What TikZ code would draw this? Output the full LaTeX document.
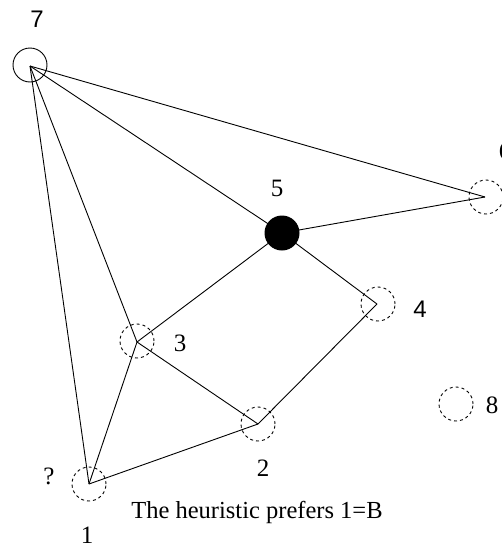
\documentclass[tikz,border=0pt]{standalone}
\usepackage{fontspec}
\setmainfont{Liberation Serif}
\newfontfamily\lsans{Liberation Sans}
\begin{document}
\begin{tikzpicture}[x=1pt,y=-1pt,
  edge/.style={line width=0.9pt},
  vtx/.style={circle,draw,dash pattern=on 3pt off 3pt,line width=0.9pt,minimum size=34pt,inner sep=0pt},
  lbl/.style={inner sep=0pt,font=\fontsize{25}{25}\selectfont},
  slbl/.style={inner sep=0pt,font=\lsans\fontsize{24}{24}\selectfont}]
\useasboundingbox (0,0) rectangle (502,544);
% vertex points
\coordinate (p7) at (30,66);
\coordinate (p6) at (485,197);
\coordinate (p5) at (282,233);
\coordinate (p4) at (377,304);
\coordinate (p3) at (137,342);
\coordinate (p2) at (258,424);
\coordinate (p1) at (89,484);
% circles
\node[circle,draw,line width=0.9pt,minimum size=34pt,inner sep=0pt] (c7) at (30,65) {};
\node[vtx] (c6) at (486,197) {};
\node[circle,fill=black,minimum size=35pt,inner sep=0pt] (c5) at (p5) {};
\node[vtx] (c4) at (378,304) {};
\node[vtx] (c3) at (137,341) {};
\node[vtx] (c2) at (258,424) {};
\node[vtx] (c1) at (89,484) {};
\node[vtx] (c8) at (456,404) {};
% edges
\draw[edge] (p7) -- (p6);
\draw[edge] (p7) -- (p5);
\draw[edge] (p7) -- (p3);
\draw[edge] (p7) -- (p1);
\draw[edge] (p5) -- (p6);
\draw[edge] (p5) -- (p3);
\draw[edge] (p5) -- (p4);
\draw[edge] (p4) -- (p2);
\draw[edge] (p3) -- (p2);
\draw[edge] (p3) -- (p1);
\draw[edge] (p1) -- (p2);
% labels
\node[slbl] (l7) at (37,19) {7};
\node[lbl] (l6) at (505,151) {6};
\node[lbl] (l5) at (277,188) {5};
\node[slbl] (l4) at (420,309) {4};
\node[lbl] (l3) at (180,343) {3};
\node[lbl] (l2) at (263,468) {2};
\node[lbl] (l1) at (87,535) {1};
\node[lbl] (lq) at (49,476) {?};
\node[lbl] (l8) at (492,405) {8};
\node[inner sep=0pt,font=\fontsize{24.5}{24.5}\selectfont,anchor=base] (txt) at (257,518) {The heuristic prefers 1=B};
\end{tikzpicture}
\end{document}
